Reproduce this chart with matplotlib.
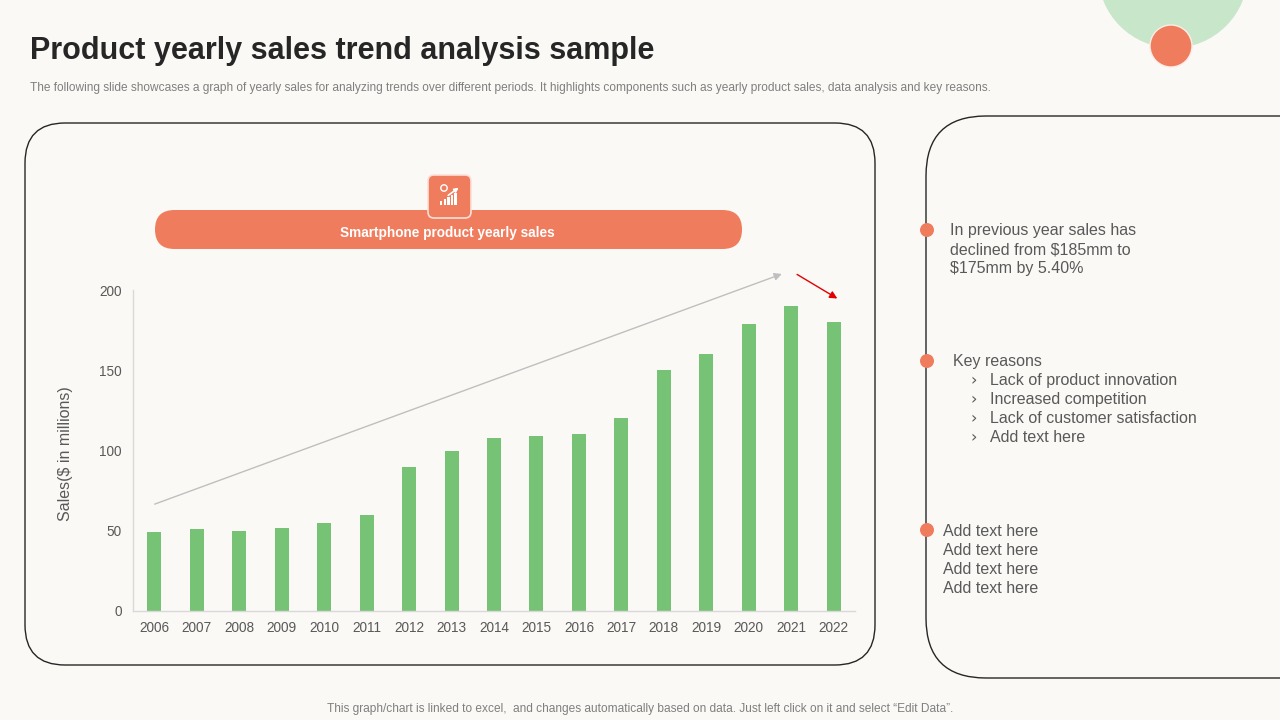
import matplotlib
matplotlib.use('Agg')
import matplotlib.pyplot as plt
from matplotlib.patches import FancyBboxPatch, Circle, Rectangle
import numpy as np

plt.rcParams['font.family'] = ['Liberation Sans', 'DejaVu Sans']

# ------------------------------------------------------------
# data
# ------------------------------------------------------------
years = ['2006', '2007', '2008', '2009', '2010', '2011', '2012', '2013', '2014',
         '2015', '2016', '2017', '2018', '2019', '2020', '2021', '2022']
sales = [49, 51, 50, 52, 55, 60, 90, 100, 108, 109, 110, 120, 150, 160, 179, 190, 180]
y_ticks = [0, 50, 100, 150, 200]

title = 'Product yearly sales trend analysis sample'
subtitle = ('The following slide showcases a graph of yearly sales for analyzing trends over different '
            'periods. It highlights components such as yearly product sales, data analysis and key reasons.')
banner_text = 'Smartphone product yearly sales'
footer = ('This graph/chart is linked to excel,  and changes automatically based on data. '
          'Just left click on it and select \u201cEdit Data\u201d.')
note_lines = ['In previous year sales has', 'declined from $185mm to', '$175mm by 5.40%']
reason_head = 'Key reasons'
reasons = ['Lack of product innovation', 'Increased competition',
           'Lack of customer satisfaction', 'Add text here']
extra_lines = ['Add text here', 'Add text here', 'Add text here', 'Add text here']

BG = '#FAF9F6'
ORANGE = '#F07C5E'
GREEN = '#77C375'
TXT = '#595959'

fig = plt.figure(figsize=(12.8, 7.2), dpi=100)
fig.patch.set_facecolor(BG)

# overlay in pixel coordinates for the slide decorations
deco = fig.add_axes([0, 0, 1, 1], zorder=0)
deco.set_xlim(0, 1280)
deco.set_ylim(720, 0)
deco.axis('off')
deco.set_facecolor('none')

# top right circles
deco.add_patch(Circle((1173, -27), 75, facecolor='#C8E6C9', edgecolor='none'))
deco.add_patch(Circle((1171, 46), 21, facecolor=ORANGE, edgecolor='#FDEDE7', lw=1))

# title + subtitle
deco.text(30, 59, title, fontsize=22, fontweight='bold',
          color='#262626', ha='left', va='baseline')
deco.text(30, 88, subtitle, fontsize=8.6, color='#7F7F7F', ha='left', va='center')

# panels
deco.add_patch(FancyBboxPatch((25, 123), 850, 542, boxstyle='round,pad=0,rounding_size=40',
                              facecolor='none', edgecolor='#262626', lw=1))
deco.add_patch(FancyBboxPatch((926, 116), 420, 562, boxstyle='round,pad=0,rounding_size=60',
                              facecolor='none', edgecolor='#262626', lw=1, clip_on=False))

# banner
deco.add_patch(FancyBboxPatch((155, 210), 587, 39, boxstyle='round,pad=0,rounding_size=19.5',
                              facecolor=ORANGE, edgecolor='none'))
deco.text(447, 237, banner_text, fontsize=9.8, fontweight='bold',
          color='white', ha='center', va='baseline')

# icon box
deco.add_patch(FancyBboxPatch((428, 175), 43, 43, boxstyle='round,pad=0,rounding_size=6',
                              facecolor=ORANGE, edgecolor='#FBE0D6', lw=1.2, zorder=3))
for i, h in enumerate([4, 6, 8, 10, 12]):
    deco.add_patch(Rectangle((440 + i * 3.6, 205 - h), 2.4, h, facecolor='white',
                             edgecolor='none', zorder=4))
deco.annotate('', xy=(461, 186), xytext=(446, 197),
              arrowprops=dict(arrowstyle='-|>', color='white', lw=1.2, mutation_scale=6), zorder=4)
deco.add_patch(Circle((444, 188), 3.2, facecolor='none', edgecolor='white', lw=1, zorder=4))

# ------------------------------------------------------------
# chart
# ------------------------------------------------------------
ax = fig.add_axes([133 / 1280, (720 - 611) / 720, 722 / 1280, 321 / 720], zorder=2)
ax.set_facecolor('none')
x = np.arange(len(years))
ax.bar(x, sales, width=0.33, color=GREEN, zorder=2)
ax.set_xlim(-0.5, len(years) - 0.5)
ax.set_ylim(0, 200)
ax.set_yticks(y_ticks)
ax.set_xticks(x)
ax.set_xticklabels(years)
ax.tick_params(axis='both', length=0, labelsize=9.8, labelcolor=TXT)
ax.tick_params(axis='y', pad=8)
ax.tick_params(axis='x', pad=7)
for s in ['top', 'right']:
    ax.spines[s].set_visible(False)
for s in ['left', 'bottom']:
    ax.spines[s].set_color('#D9D9D9')
    ax.spines[s].set_linewidth(1)
ax.set_ylabel('Sales($ in millions)', fontsize=11.5, color=TXT)
ax.yaxis.set_label_coords(-0.083, 0.49)

# trend arrows
ax.annotate('', xy=(14.84, 210.6), xytext=(-0.05, 66), annotation_clip=False,
            arrowprops=dict(arrowstyle='-|>', color='#BFBFBF', lw=1, mutation_scale=11))
ax.annotate('', xy=(16.14, 193.8), xytext=(15.08, 210.6), annotation_clip=False,
            arrowprops=dict(arrowstyle='-|>', color='#E00000', lw=1, mutation_scale=11))

# ------------------------------------------------------------
# right panel text
# ------------------------------------------------------------
for yy in [230, 361, 530]:
    deco.add_patch(Circle((927, yy), 7, facecolor=ORANGE, edgecolor='none', zorder=3))

for i, line in enumerate(note_lines):
    deco.text(950, 235 + i * 19, line, fontsize=11.5, color=TXT, ha='left', va='baseline')

deco.text(953, 366, reason_head, fontsize=11.5, color=TXT, ha='left', va='baseline')
for i, line in enumerate(reasons):
    deco.text(971, 385 + i * 19, '\u203a', fontsize=11.5, color=TXT, ha='left', va='baseline',
              family=['DejaVu Sans'])
    deco.text(990, 385 + i * 19, line, fontsize=11.5, color=TXT, ha='left', va='baseline')

for i, line in enumerate(extra_lines):
    deco.text(943, 536 + i * 19, line, fontsize=11.5, color=TXT, ha='left', va='baseline')

# footer
deco.text(640, 709, footer, fontsize=8.6, color='#7F7F7F', ha='center', va='center')

fig.savefig('out.png', dpi=100, facecolor=BG)
